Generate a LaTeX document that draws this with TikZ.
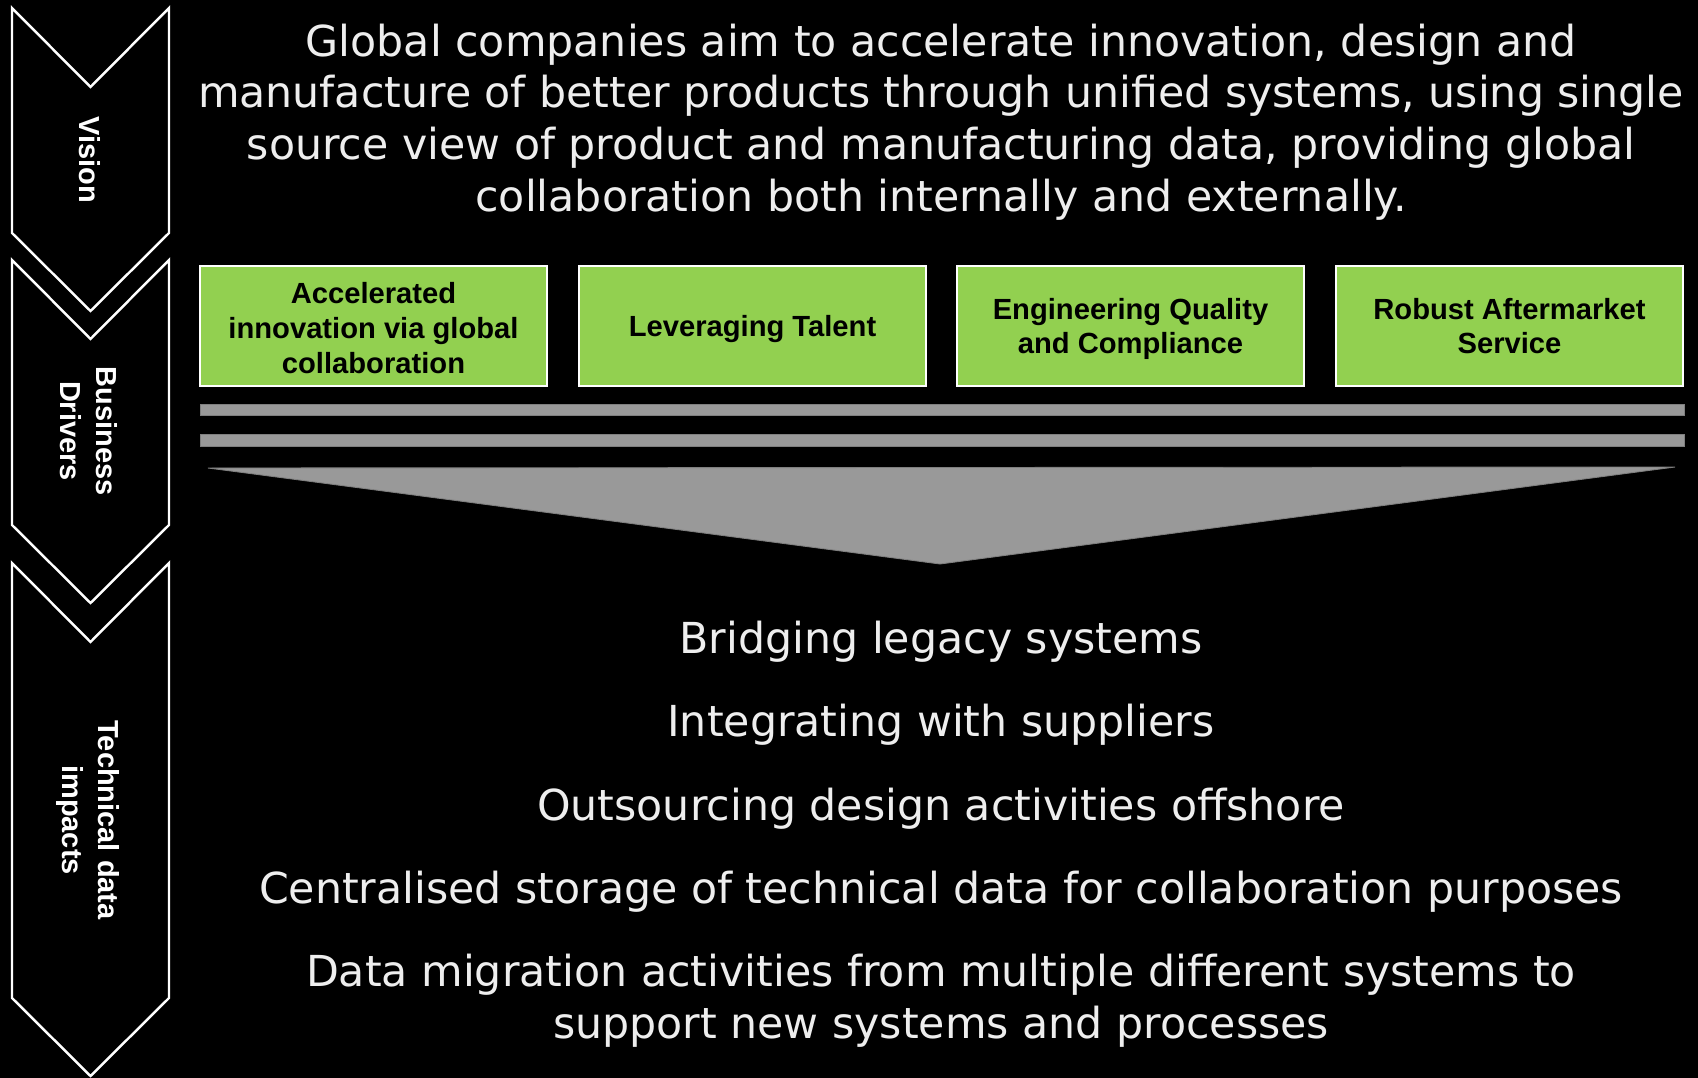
\documentclass[tikz,border=0pt]{standalone}
\usepackage{fontspec}
\setmainfont{DejaVu Sans}
\newfontfamily\arialfont{Liberation Sans}
\definecolor{drivergreen}{HTML}{92D050}
\definecolor{bargray}{HTML}{999999}
\definecolor{bardark}{HTML}{7F7F7F}
\definecolor{paletext}{HTML}{EEEEEE}
\tikzset{
    chevron/.style={draw=white, line width=1.4pt, fill=black, line join=miter},
    chevlabel/.style={text=white, rotate=-90, align=center, inner sep=0pt,
        font=\arialfont\bfseries\fontsize{16.5}{20.5}\selectfont},
    driverbox/.style={draw=white, line width=1.1pt, fill=drivergreen,
        minimum width=6.94cm, minimum height=2.4cm, inner sep=0pt},
    drivertext/.style={align=center, inner sep=0pt,
        font=\arialfont\bfseries\fontsize{16.6}{19.7}\selectfont},
    bar/.style={fill=bargray, draw=bardark, line width=0.5pt},
    bigtext/.style={text=paletext, align=center, inner sep=0pt,
        font=\fontsize{24.3}{29.4}\selectfont}
}
\begin{document}
\begin{tikzpicture}[x=0.02cm, y=-0.02cm]
    \fill [black] (0,0) rectangle (1698,1078) ;
    \useasboundingbox (0,0) rectangle (1698,1078) ;

    \foreach \t/\b in {8/233, 260/525, 563/998} {
      \draw [chevron] (12,\t) -- (90.5,{\t+79}) -- (169,\t) -- (169,\b)
      -- (90.5,{\b+78}) -- (12,\b) -- cycle ;
    }
    \node [chevlabel] (vision) at (90,160) {Vision} ;
    \node [chevlabel] (drivers) at (89,431) {Business\\Drivers} ;
    \node [chevlabel] (impacts) at (88,820) {Technical data\\impacts} ;

    \node [bigtext] (visiontext) at (941,122)
    {Global companies aim to accelerate innovation, design and\\
      manufacture of better products through unified systems, using single\\
      source view of product and manufacturing data, providing global\\
      collaboration both internally and externally.} ;

    \foreach \i/\x/\y/\txt in {1/373.5/328/{Accelerated\\innovation via global\\collaboration},
      2/752.5/329/{Leveraging Talent},
      3/1130.5/329/{Engineering Quality\\and Compliance},
      4/1509.5/326/{Robust Aftermarket\\Service}} {
      \node [driverbox] (drv\i) at (\x,326) {} ;
      \node [drivertext] (drvtext\i) at (\x,\y) {\txt} ;
    }

    \draw [bar] (200,404) rectangle (1684,415) ;
    \draw [bar] (200,434) rectangle (1684,446) ;
    \draw [bar] (208,468) -- (1675,467) -- (940,564) -- cycle ;

    \node [bigtext] (imp1) at (941,642) {Bridging legacy systems} ;
    \node [bigtext] (imp2) at (941,725) {Integrating with suppliers} ;
    \node [bigtext] (imp3) at (941,809) {Outsourcing design activities offshore} ;
    \node [bigtext] (imp4) at (941,892)
    {Centralised storage of technical data for collaboration purposes} ;
    \node [bigtext] (imp5) at (941,1000.5)
    {Data migration activities from multiple different systems to\\
      support new systems and processes} ;

  \end{tikzpicture}
\end{document}
